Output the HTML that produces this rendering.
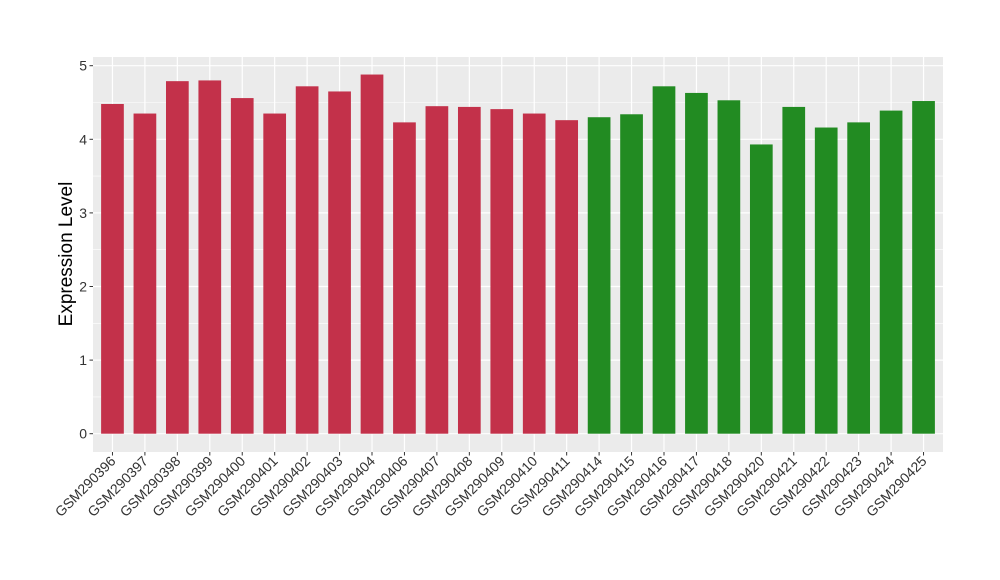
<!DOCTYPE html>
<html><head><meta charset="utf-8"><style>body{margin:0;background:#fff}svg{display:block;font-family:"Liberation Sans",Arial,sans-serif}</style></head>
<body>
<svg id="chart" width="1000" height="580" viewBox="0 0 1000 580">
<rect x="93" y="57" width="850" height="395" fill="#ebebeb"/>
<g id="grid"></g><g id="bars"></g><g id="axes"></g>
<text transform="translate(72,254) rotate(-90)" text-anchor="middle" font-size="19" fill="#000">Expression Level</text>
</svg>
<script>
const categories=["GSM290396","GSM290397","GSM290398","GSM290399","GSM290400","GSM290401","GSM290402","GSM290403","GSM290404","GSM290406","GSM290407","GSM290408","GSM290409","GSM290410","GSM290411","GSM290414","GSM290415","GSM290416","GSM290417","GSM290418","GSM290420","GSM290421","GSM290422","GSM290423","GSM290424","GSM290425"];
const values=[4.48,4.35,4.79,4.80,4.56,4.35,4.72,4.65,4.88,4.23,4.45,4.44,4.41,4.35,4.26,4.30,4.34,4.72,4.63,4.53,3.93,4.44,4.16,4.23,4.39,4.52];
const groups=["a","a","a","a","a","a","a","a","a","a","a","a","a","a","a","b","b","b","b","b","b","b","b","b","b","b"];
const yTicks=[0,1,2,3,4,5];
const NS="http://www.w3.org/2000/svg";
const px0=93,pw=850,n=categories.length,step=pw/(n-1+1.2);
const x=i=>px0+step*(0.6+i);
const y=v=>433.7-v*73.6;
const colors={a:"#c3314a",b:"#228b22"};
function mk(t,a,p){const e=document.createElementNS(NS,t);for(const k in a)e.setAttribute(k,a[k]);p.appendChild(e);return e;}
const grid=document.getElementById('grid'),bars=document.getElementById('bars'),axes=document.getElementById('axes');
yTicks.forEach((t,i)=>{
 if(i<yTicks.length-1){const m=mk('line',{x1:93,x2:943,y1:y(t+0.5),y2:y(t+0.5),stroke:'#fff','stroke-width':0.6},grid);
 
 }
 const g=mk('line',{x1:93,x2:943,y1:y(t),y2:y(t),stroke:'#fff','stroke-width':1.2},grid);
 
 
 const tk=mk('line',{x1:89.5,x2:93,y1:y(t),y2:y(t),stroke:'#333','stroke-width':1},axes);
 
 
 const lb=mk('text',{x:87,y:y(t)+5,'text-anchor':'end','font-size':14,fill:'#333'},axes);
 lb.textContent=t;
 
 
});
categories.forEach((c,i)=>{
 const g=mk('line',{x1:x(i),x2:x(i),y1:57,y2:452,stroke:'#fff','stroke-width':1.2},grid);
 
 
 const bw=step*0.7;
 const b=mk('rect',{x:x(i)-bw/2,y:y(values[i]),width:bw,height:y(0)-y(values[i]),fill:colors[groups[i]]},bars);
 
 
 const tk=mk('line',{x1:x(i),x2:x(i),y1:452,y2:455.5,stroke:'#333','stroke-width':1},axes);
 
 
 const lb=mk('text',{transform:`translate(${x(i)+4},${462}) rotate(-45)`,'text-anchor':'end','font-size':14,fill:'#333'},axes);
 lb.textContent=c;
 
 
});
</script>
</body></html>
